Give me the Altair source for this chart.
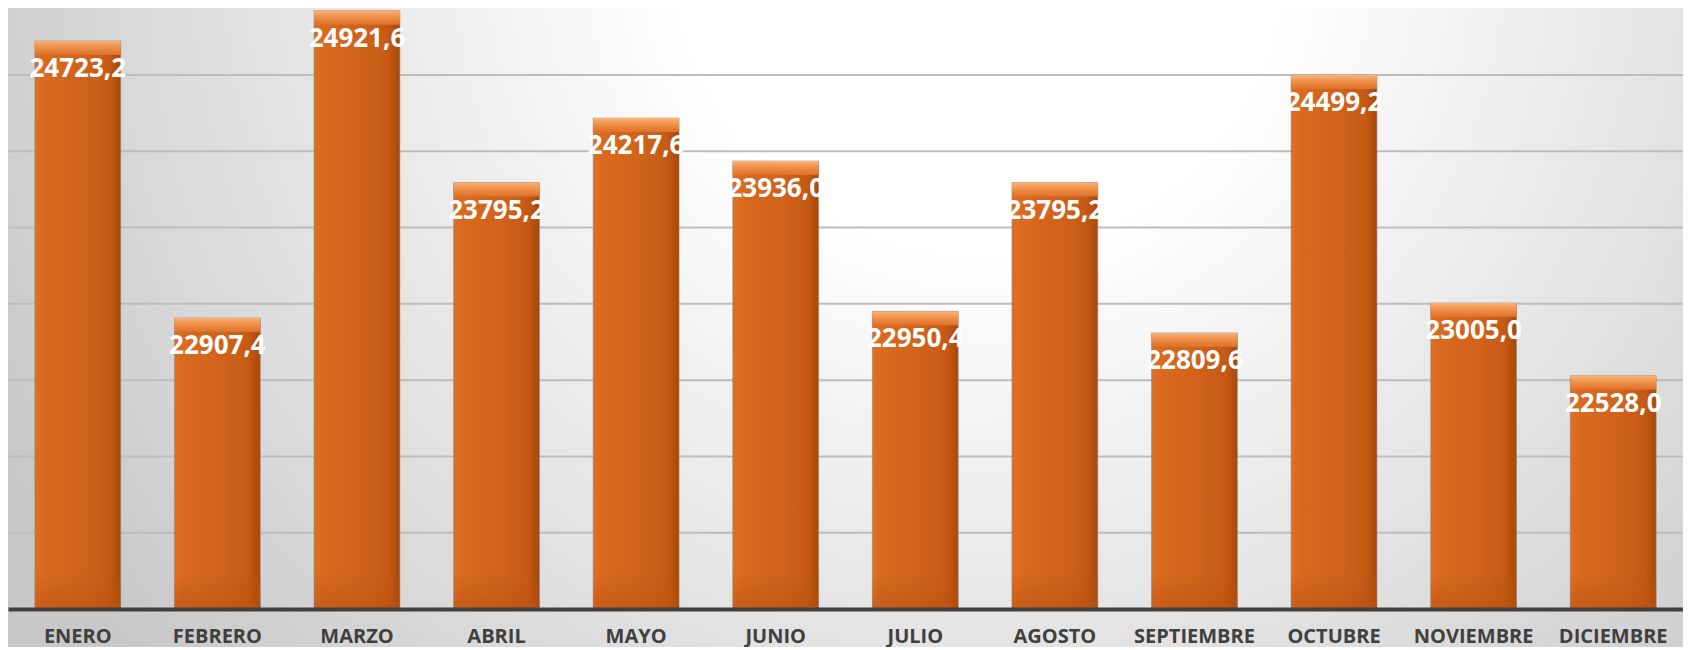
import altair as alt
import pandas as pd

months = ["ENERO", "FEBRERO", "MARZO", "ABRIL", "MAYO", "JUNIO", "JULIO",
          "AGOSTO", "SEPTIEMBRE", "OCTUBRE", "NOVIEMBRE", "DICIEMBRE"]
values = [24723.2, 22907.4, 24921.6, 23795.2, 24217.6, 23936.0, 22950.4,
          23795.2, 22809.6, 24499.2, 23005.0, 22528.0]
grid_values = [21500, 22000, 22500, 23000, 23500, 24000, 24500]
y_min, y_max = 21000, 24939

W, H = 1675, 601

df = pd.DataFrame({"mes": months, "valor": values})
df["base"] = y_min
grid_df = pd.DataFrame({"g": grid_values})

font = "Open Sans"

x_enc = alt.X(
    "mes:N", sort=months, title=None,
    scale=alt.Scale(paddingInner=0.385, paddingOuter=0.1925),
    axis=alt.Axis(labelAngle=0, labelFont=font, labelFontSize=20,
                  labelFontWeight="bold", labelColor="#404040",
                  labelPadding=17, ticks=False, tickSize=0, grid=False,
                  domainColor="#404040", domainWidth=4, labelOverlap=False,
                  zindex=1),
)
y_scale = alt.Scale(domain=[y_min, y_max], nice=False, zero=False)

bg = alt.Chart(pd.DataFrame({"k": [0]})).mark_rect(
    color=alt.Gradient(
        gradient="radial", x1=0.58, y1=0.273, r1=0, x2=0.58, y2=0.273, r2=0.657,
        stops=[alt.GradientStop(offset=0, color="#ffffff"),
               alt.GradientStop(offset=0.27, color="#ffffff"),
               alt.GradientStop(offset=1, color="#c8c8c8")]
    )
).encode(x=alt.value(0), x2=alt.value(W), y=alt.value(0), y2=alt.value(H + 40))

grid = alt.Chart(grid_df).mark_rule(color="#bdbdbd", strokeWidth=2).encode(
    y=alt.Y("g:Q", scale=y_scale, axis=None)
)

base = alt.Chart(df).encode(x=x_enc)

bars = base.mark_bar(
    color=alt.Gradient(
        gradient="linear", x1=0, y1=0, x2=1, y2=0,
        stops=[alt.GradientStop(offset=0, color="#de6f24"),
               alt.GradientStop(offset=0.1, color="#d96a1f"),
               alt.GradientStop(offset=0.6, color="#cf611a"),
               alt.GradientStop(offset=0.86, color="#c65a15"),
               alt.GradientStop(offset=1, color="#a84808")]
    ),
    stroke="#8c8c8c", strokeWidth=1, strokeOpacity=0.6
).encode(
    y=alt.Y("valor:Q", scale=y_scale, axis=None),
    y2="base:Q",
)

top_cap = base.mark_bar(
    y2Offset=14,
    color=alt.Gradient(
        gradient="linear", x1=0, y1=0, x2=0, y2=1,
        stops=[alt.GradientStop(offset=0, color="#fbb47a"),
               alt.GradientStop(offset=0.3, color="#f39a55"),
               alt.GradientStop(offset=1, color="#de7029")]
    )
).encode(
    y=alt.Y("valor:Q", scale=y_scale, axis=None),
    y2="valor:Q",
)

bottom_cap = base.mark_bar(
    yOffset=-36,
    color=alt.Gradient(
        gradient="linear", x1=0, y1=0, x2=0, y2=1,
        stops=[alt.GradientStop(offset=0, color="rgba(185,80,16,0)"),
               alt.GradientStop(offset=1, color="rgba(185,80,16,0.55)")]
    )
).encode(
    y=alt.Y("base:Q", scale=y_scale, axis=None),
    y2="base:Q",
)

labels = base.mark_text(
    font=font, fontSize=26, fontWeight="bold", color="white",
    baseline="middle", dy=28
).transform_calculate(
    etiqueta="replace(format(datum.valor, '.1f'), '.', ',')"
).encode(
    y=alt.Y("valor:Q", scale=y_scale, axis=None),
    text="etiqueta:N",
)

chart = alt.layer(bg, grid, bars, top_cap, bottom_cap, labels).properties(
    width=W, height=H,
    autosize=alt.AutoSizeParams(type="none"),
    padding={"left": 0, "top": 0, "right": 0, "bottom": 38},
).configure_view(stroke=None)

chart.save("out.html", embed_options={"renderer": "svg", "actions": False})
